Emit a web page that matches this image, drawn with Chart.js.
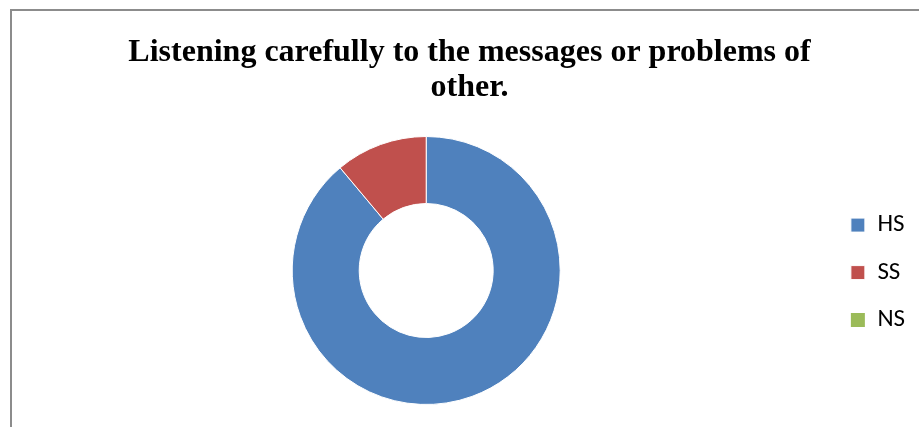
<!DOCTYPE html>
<html lang="en">
<head>
    <meta charset="UTF-8">
    <title>Listening carefully to the messages or problems of other.</title>
    <script src="https://cdn.jsdelivr.net/npm/chart.js"></script>
    <style>
        html, body { margin: 0; padding: 0; background: #fff; overflow: hidden; }
        .chart-wrap { position: relative; width: 919px; height: 427px; }
        .frame {
            position: absolute; left: 10px; top: 9px; width: 1000px; height: 500px;
            border-top: 2px solid #8c8c8c; border-left: 2px solid #8c8c8c;
            pointer-events: none;
        }
    </style>
</head>
<body>
    <div class="chart-wrap">
        <canvas id="chartListening"></canvas>
        <div class="frame"></div>
    </div>

    <script>
        // answers share (%)
        const labels = ['HS', 'SS', 'NS'];
        const values = [88.9, 11.1, 0];
        const sliceColors = ['#4F81BD', '#C0504D', '#9BBB59'];
        const titleLines = ['Listening carefully to the messages or problems of', 'other.'];

        new Chart(document.getElementById('chartListening'), {
            type: 'doughnut',
            data: {
                labels: labels,
                datasets: [{
                    data: values,
                    backgroundColor: sliceColors,
                    borderColor: '#ffffff',
                    borderWidth: [1, 1, 0]
                }]
            },
            options: {
                responsive: true,
                maintainAspectRatio: false,
                animation: false,
                cutout: '50%',
                layout: { padding: { left: 24, top: 0, right: 4, bottom: 22 } },
                plugins: {
                    title: {
                        display: true,
                        text: titleLines,
                        color: '#000',
                        font: { family: "'Liberation Serif', 'Times New Roman', serif", size: 32, weight: 'bold', lineHeight: 35 / 32 },
                        padding: { top: 35, bottom: 31 }
                    },
                    legend: {
                        position: 'right',
                        align: 'center',
                        // blank legend title only pushes the entries down
                        title: { display: true, text: '', padding: { top: 139, bottom: 0 }, font: { size: 1 } },
                        labels: {
                            color: '#000',
                            boxWidth: 14,
                            boxHeight: 14,
                            padding: 22.5,
                            font: { family: "Carlito, Calibri, Lato, sans-serif", size: 25 }
                        }
                    },
                    tooltip: { enabled: false }
                },
                events: []
            }
        });
    </script>
</body>
</html>
